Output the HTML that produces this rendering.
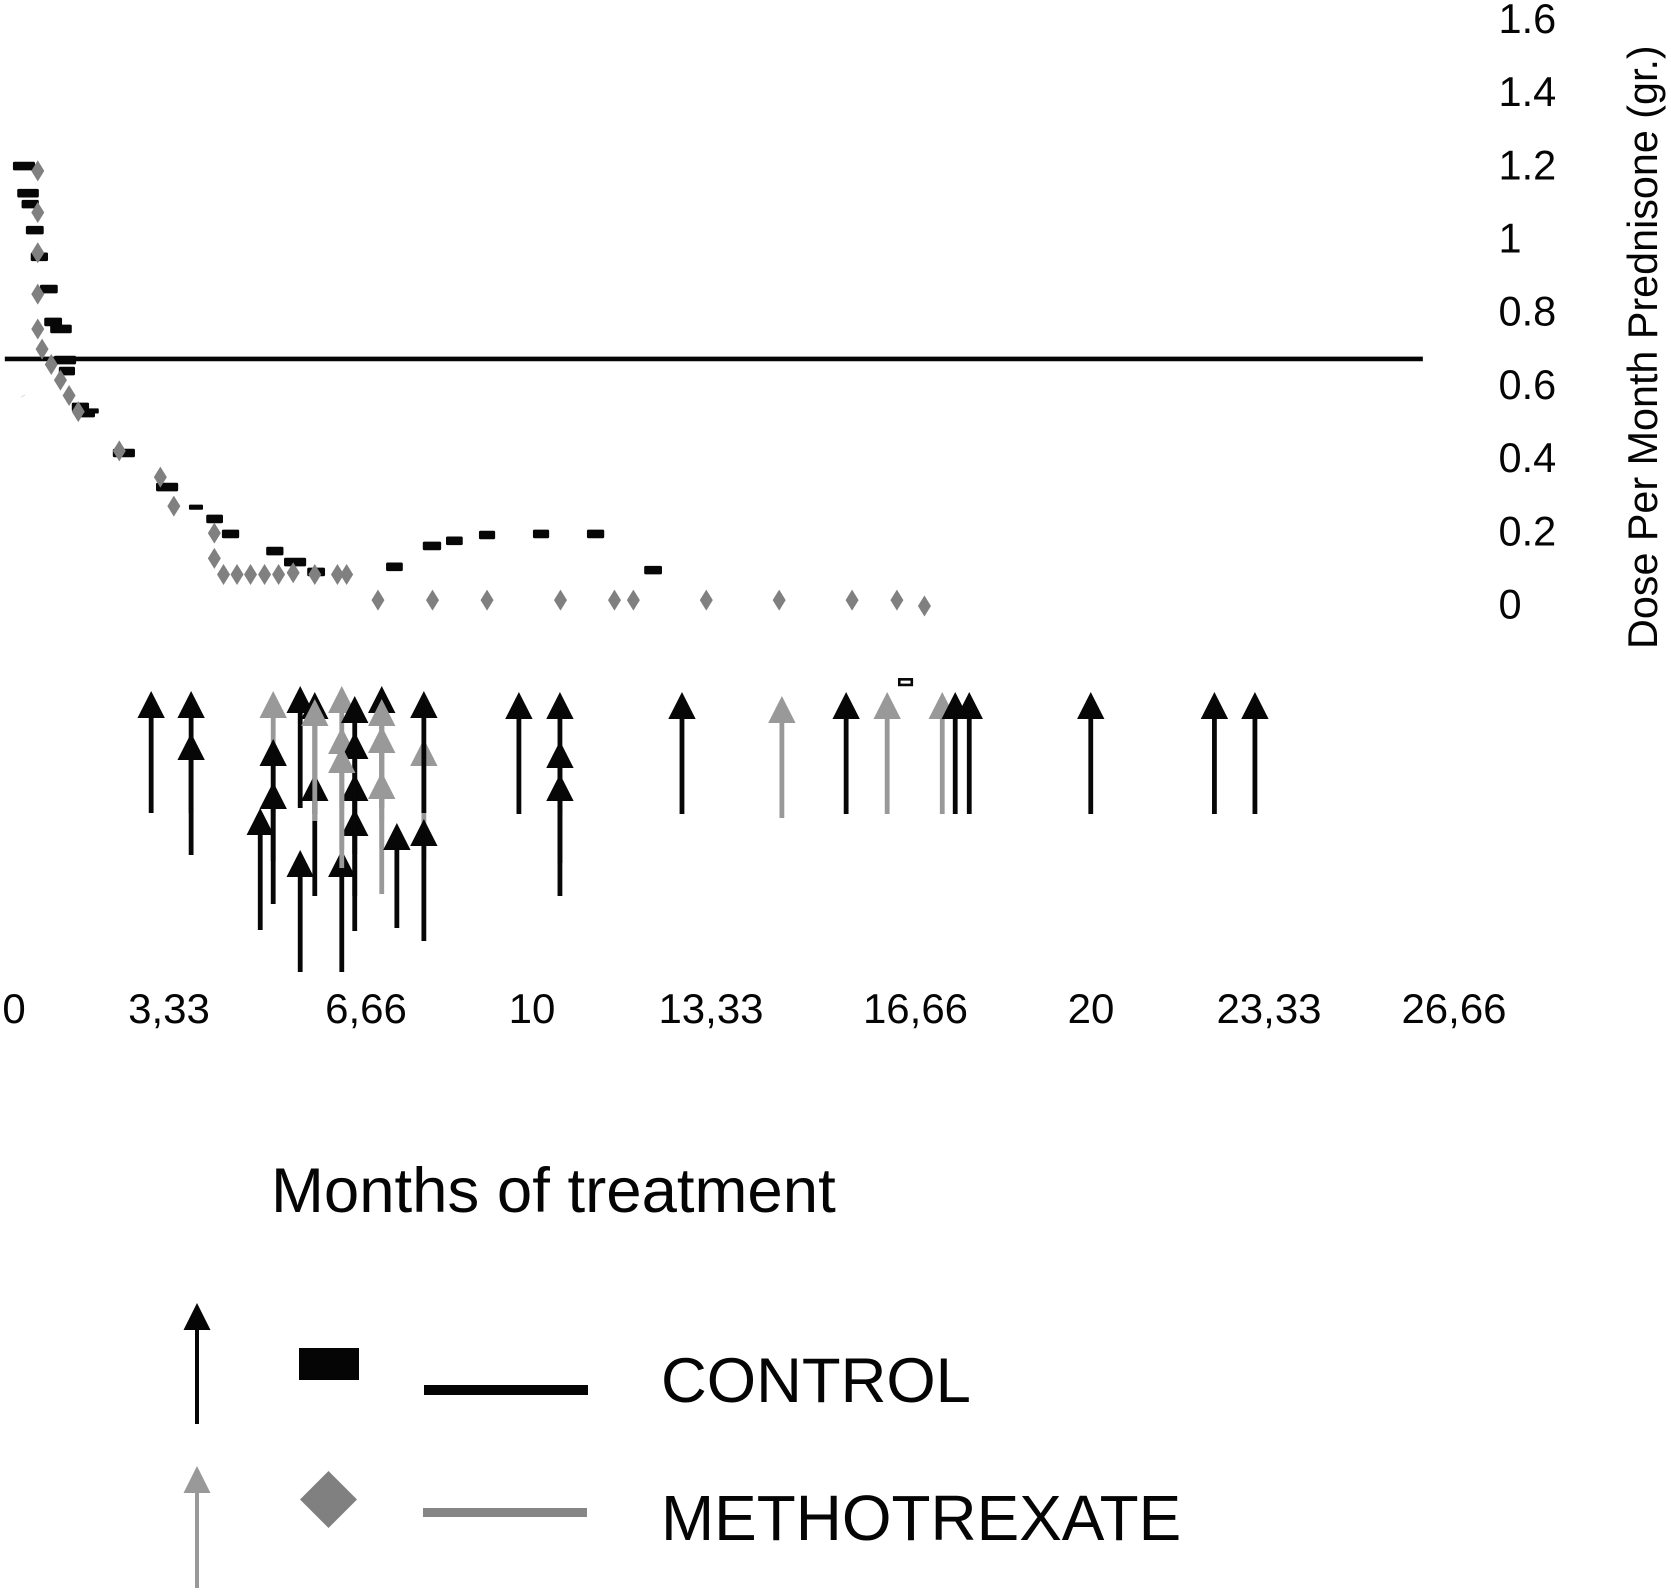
<!DOCTYPE html>
<html>
<head>
<meta charset="utf-8">
<title>Prednisone dose per month</title>
<style>
html,body{margin:0;padding:0;background:#fff;}
svg{display:block;}
text{font-family:"Liberation Sans",sans-serif;fill:#050505;}
</style>
</head>
<body>
<svg id="chart" xmlns="http://www.w3.org/2000/svg" width="1671" height="1592" viewBox="0 0 1671 1592">
  <rect x="0" y="0" width="1671" height="1592" fill="#fff"/>
  <g id="y-ticks" font-size="41.5"></g>
  <text font-size="41.3" transform="translate(1657 649) rotate(-90)">Dose Per Month Prednisone (gr.)</text>
  <g font-size="42" text-anchor="middle">
    <text x="14" y="1023">0</text>
    <text x="169" y="1023">3,33</text>
    <text x="366" y="1023">6,66</text>
    <text x="532" y="1023">10</text>
    <text x="711" y="1023">13,33</text>
    <text x="915.5" y="1023">16,66</text>
    <text x="1091" y="1023">20</text>
    <text x="1269" y="1023">23,33</text>
    <text x="1454" y="1023">26,66</text>
  </g>
  <text x="271" y="1212" font-size="63.5">Months of treatment</text>
  <line id="threshold" stroke="#050505" stroke-width="4.7"/>
  <line x1="21" y1="397" x2="25" y2="395" stroke="#ddd" stroke-width="1"/>
  <g id="control-marks"></g>
  <g id="mtx-marks"></g>
  <g id="arrows"></g>
  <g>
    <g>
      <rect x="195" y="1328" width="4" height="96" fill="#050505"/>
      <polygon points="197,1303 210.5,1330 183.5,1330" fill="#050505"/>
    </g>
    <rect x="299" y="1348" width="60" height="32" fill="#050505"/>
    <rect x="424" y="1385" width="164" height="10" fill="#050505"/>
    <text x="661" y="1402" font-size="63.4">CONTROL</text>
    <g>
      <rect x="195" y="1491" width="4" height="97" fill="#999"/>
      <polygon points="197,1466 210.5,1493 183.5,1493" fill="#999"/>
    </g>
    <polygon points="328.5,1471 357,1499.5 328.5,1528 300,1499.5" fill="#808080"/>
    <rect x="423" y="1508" width="164" height="9" fill="#868686"/>
    <text x="661" y="1540" font-size="63.85">METHOTREXATE</text>
  </g>
</svg>
<script>
const yTickLabels = ["1.6","1.4","1.2","1","0.8","0.6","0.4","0.2","0"];
const yTickValues = [1.6,1.4,1.2,1,0.8,0.6,0.4,0.2,0];
const thresholdDose = 0.675;
const thresholdStartMonth = -0.17;
const thresholdEndMonth = 26.09;

const controlStart = [-0.02,0.06,0.14,0.22,0.31,0.48,0.56,0.67,0.74,0.83,1.07,1.19,1.83,2.63,3.56,3.85,4.67,5.0,5.43,6.89,7.57,8.0,8.61,9.61,10.61,11.67];
const controlEnd = [0.39,0.46,0.46,0.55,0.63,0.81,0.89,1.07,1.15,1.13,1.39,1.5,2.24,3.04,3.87,4.17,4.99,5.41,5.76,7.2,7.91,8.31,8.91,9.91,10.93,12.0];
const controlDose = [1.202,1.128,1.098,1.027,0.954,0.866,0.776,0.757,0.672,0.642,0.544,0.527,0.418,0.325,0.238,0.197,0.150,0.120,0.093,0.107,0.164,0.178,0.194,0.197,0.197,0.098];
const controlThinStart = [1.22,3.24];
const controlThinEnd = [1.57,3.5];
const controlThinDose = [0.533,0.270];
const controlHollowStart = [16.37];
const controlHollowEnd = [16.65];
const controlHollowDose = [-0.208];

const mtxMonths = [0.44,0.44,0.44,0.44,0.44,0.52,0.69,0.86,1.02,1.19,1.95,2.71,2.96,3.71,3.71,3.88,4.13,4.38,4.64,4.90,5.17,5.57,5.99,6.16,6.74,7.75,8.76,10.12,11.12,11.47,12.82,14.17,15.52,16.35,16.86];
const mtxDose = [1.189,1.075,0.965,0.852,0.757,0.702,0.660,0.617,0.575,0.531,0.424,0.352,0.273,0.199,0.130,0.086,0.086,0.086,0.086,0.086,0.091,0.086,0.086,0.086,0.016,0.016,0.016,0.016,0.016,0.016,0.016,0.016,0.016,0.016,0];

const arrowSeries = ["c","c","c","m","c","c","c","c","c","c","c","m","c","c","c","m","m","c","c","m","c","m","m","m","c","m","c","c","c","c","c","c","m","c","m","m","c","c","c","c","c"];
const arrowMonths = [2.54,3.28,3.28,4.80,4.80,4.80,4.56,5.30,5.30,5.57,5.57,5.57,6.31,6.31,6.07,6.07,6.07,6.31,6.31,6.07,6.81,6.81,6.81,6.81,7.09,7.59,7.59,7.59,9.35,10.11,10.11,10.11,14.22,12.37,16.17,17.19,15.41,17.43,17.69,19.94,22.23];
const arrowRows = [0.5,0.5,4.7,0.5,5.3,9.6,12.2,0,16.4,0.6,8.8,1.3,8.8,12.3,16.4,0,4.1,1.0,4.6,6.0,0,1.3,4,8.6,13.7,5.3,0.5,13.3,0.6,0.6,5.5,8.8,1,0.6,0.6,0.6,0.6,0.6,0.6,0.6,0.6];
const arrowSpans = [12.2,12.2,12.2,12.2,12.2,12.2,12.2,12.2,12.2,12.2,12.2,12.2,12.2,12.2,12.2,12.2,12.2,12.2,12.2,12.2,12.2,12.2,12.2,12.2,10.5,12.2,12.2,12.2,12.2,12.2,12.2,12.2,12.2,12.2,12.2,12.2,12.2,12.2,12.2,12.2,12.2];
const extraArrowMonths = [22.98];
const extraArrowRows = [0.6];

const SVGNS = "http://www.w3.org/2000/svg";
const xScale = function (m) { return 14 + 54 * m; };
const yScale = function (d) { return 606 - 366 * d; };
const rowScale = function (r) { return 686 + 10 * r; };
const BLACK = "#070707";
const GREY = "#999999";
const DIAMOND = "#808080";

function make(tag, attrs, parent) {
  const el = document.createElementNS(SVGNS, tag);
  Object.keys(attrs).forEach(function (k) { el.setAttribute(k, attrs[k]); });
  parent.appendChild(el);
  return el;
}

const tickGroup = document.getElementById("y-ticks");
yTickLabels.forEach(function (label, i) {
  const t = make("text", { x: 1498.5, y: yScale(yTickValues[i]) + 12.5 }, tickGroup);
  
  
  t.textContent = label;
});

const threshold = document.getElementById("threshold");
threshold.setAttribute("x1", xScale(thresholdStartMonth));
threshold.setAttribute("x2", xScale(thresholdEndMonth));
threshold.setAttribute("y1", yScale(thresholdDose));
threshold.setAttribute("y2", yScale(thresholdDose));

const controlGroup = document.getElementById("control-marks");
controlDose.forEach(function (d, i) {
  const x1 = xScale(controlStart[i]);
  const x2 = xScale(controlEnd[i]);
  const r = make("rect", { x: x1, y: yScale(d) - 4.3, width: x2 - x1, height: 8.6, rx: 1.5, fill: BLACK }, controlGroup);
  
  
});
controlThinDose.forEach(function (d, i) {
  const x1 = xScale(controlThinStart[i]);
  const x2 = xScale(controlThinEnd[i]);
  const r = make("rect", { x: x1, y: yScale(d) - 2.6, width: x2 - x1, height: 5.2, rx: 1, fill: BLACK }, controlGroup);
  
  
});
controlHollowDose.forEach(function (d, i) {
  const x1 = xScale(controlHollowStart[i]);
  const x2 = xScale(controlHollowEnd[i]);
  const r = make("rect", { x: x1 + 1.3, y: yScale(d) - 2.8, width: x2 - x1 - 2.6, height: 5.6, fill: "#fff", stroke: BLACK, "stroke-width": 2.6 }, controlGroup);
  
  
});

const mtxGroup = document.getElementById("mtx-marks");
mtxDose.forEach(function (d, i) {
  const x = xScale(mtxMonths[i]);
  const y = yScale(d);
  const p = make("polygon", { points: x + "," + (y - 10.5) + " " + (x + 6.5) + "," + y + " " + x + "," + (y + 10.5) + " " + (x - 6.5) + "," + y, fill: DIAMOND }, mtxGroup);
  
  
});

const arrowGroup = document.getElementById("arrows");
function drawArrow(series, month, row, span) {
  const x = xScale(month);
  const tip = rowScale(row);
  const color = series === "m" ? GREY : BLACK;
  const g = make("g", { fill: color }, arrowGroup);
  
  
  make("rect", { x: x - 2.4, y: tip + 25, width: 4.8, height: span * 10 - 25 }, g);
  make("polygon", { points: x + "," + tip + " " + (x + 13.7) + "," + (tip + 27) + " " + (x - 13.7) + "," + (tip + 27) }, g);
}
arrowSeries.forEach(function (s, i) {
  drawArrow(s, arrowMonths[i], arrowRows[i], arrowSpans[i]);
});
extraArrowMonths.forEach(function (m, i) {
  drawArrow("c", m, extraArrowRows[i], 12.2);
});
</script>
</body>
</html>
